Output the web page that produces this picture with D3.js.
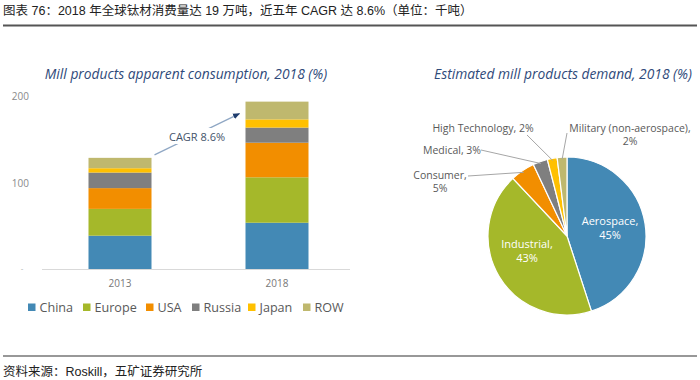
<!DOCTYPE html>
<html><head><meta charset="utf-8">
<script src="https://cdn.jsdelivr.net/npm/d3@7/dist/d3.min.js"></script>
<style>
html,body{margin:0;padding:0;background:#fff;}
svg{display:block;}
</style></head>
<body>
<svg id="c" width="700" height="380"></svg>
<script>
// ---- data ----
const years = ["2013", "2018"];
const regions = ["China", "Europe", "USA", "Russia", "Japan", "ROW"];
const china  = [38.5, 53.5];
const europe = [31, 52.5];
const usa    = [24, 40];
const russia = [18, 17.5];
const japan  = [5, 9.5];
const row    = [12, 20.5];
const yTicks = [100, 200];
const cagrLabel = "CAGR 8.6%";

const sectors = ["Aerospace", "Industrial", "Consumer", "Medical", "High Technology", "Military (non-aerospace)"];
const shares = [45, 43, 5, 3, 2, 2];

const colors = ["#4389b5", "#a5b82a", "#f28e00", "#7f7f7f", "#ffc000", "#bfb86e"];

const svg = d3.select("#c");
const cjk = "'Liberation Sans','Noto Sans CJK SC',Arial,sans-serif";
const chartFont = "'Open Sans','Noto Sans',sans-serif";

// ---- header ----
svg.append("text").attr("x", 3).attr("y", 15)
  .attr("font-family", cjk).attr("font-size", 12.5).attr("fill", "#222")
  .text("图表 76：2018 年全球钛材消费量达 19 万吨，近五年 CAGR 达 8.6%（单位：千吨）");
svg.append("line").attr("x1", 3).attr("x2", 697).attr("y1", 25.5).attr("y2", 25.5)
  .attr("stroke", "#555").attr("stroke-width", 2);

// ---- footer ----
svg.append("line").attr("x1", 3).attr("x2", 697).attr("y1", 356).attr("y2", 356)
  .attr("stroke", "#333").attr("stroke-width", 1.2);
svg.append("text").attr("x", 3).attr("y", 376)
  .attr("font-family", cjk).attr("font-size", 12.5).attr("fill", "#222")
  .text("资料来源：Roskill，五矿证券研究所");

// ---- bar chart ----
svg.append("text").attr("x", 186).attr("y", 79).attr("text-anchor", "middle")
  .attr("font-family", chartFont).attr("font-style", "italic").attr("font-size", 13.8)
  .attr("fill", "#2f4a7a").text("Mill products apparent consumption, 2018 (%)");

const series = [china, europe, usa, russia, japan, row];
const table = years.map((y, i) => {
  const o = {year: y};
  regions.forEach((r, k) => o[r] = series[k][i]);
  return o;
});
const stack = d3.stack().keys(regions)(table);

const x = d3.scalePoint().domain(years).range([120, 277]);
const barW = 63;
const y = d3.scaleLinear().domain([0, 200]).range([269, 96]);

const gBars = svg.append("g");
stack.forEach((layer, k) => {
  gBars.selectAll(null).data(layer).enter().append("rect")
    .attr("x", d => x(d.data.year) - barW / 2)
    .attr("width", barW)
    .attr("y", d => y(d[1]))
    .attr("height", d => y(d[0]) - y(d[1]))
    .attr("fill", colors[k]);
});

// axis baseline
svg.append("line").attr("x1", 42).attr("x2", 350).attr("y1", 269.5).attr("y2", 269.5)
  .attr("stroke", "#d9d9d9").attr("stroke-width", 1);
// y tick labels
svg.selectAll(null).data(yTicks).enter().append("text")
  .attr("x", 29).attr("y", d => y(d) + 4).attr("text-anchor", "end")
  .attr("font-family", chartFont).attr("font-size", 10).attr("fill", "#8a8a8a")
  .text(d => d);
svg.append("text").attr("x", 22).attr("y", 271).attr("text-anchor", "middle")
  .attr("font-family", chartFont).attr("font-size", 8).attr("fill", "#aaa").text("-");
// x labels
svg.selectAll(null).data(years).enter().append("text")
  .attr("x", d => x(d)).attr("y", 287).attr("text-anchor", "middle")
  .attr("font-family", chartFont).attr("font-size", 10).attr("fill", "#777")
  .text(d => d);

// CAGR arrow
const top13 = y(d3.sum(regions, r => table[0][r]));
const top18 = y(d3.sum(regions, r => table[1][r]));
const ax1 = x(years[0]) + barW / 2 + 3, ay1 = top13 - 3;
const ax2 = x(years[1]) - barW / 2 - 6, ay2 = top18 + 12;
svg.append("defs").append("marker").attr("id", "ah").attr("viewBox", "0 0 10 10")
  .attr("refX", 9).attr("refY", 5).attr("markerWidth", 6).attr("markerHeight", 6)
  .attr("orient", "auto").append("path").attr("d", "M0,1L10,5L0,9z").attr("fill", "#1f3d6e");
svg.append("line").attr("x1", ax1).attr("y1", ay1).attr("x2", ax2).attr("y2", ay2)
  .attr("stroke", "#8fa7c4").attr("stroke-width", 1.2).attr("marker-end", "url(#ah)");
const mx = 197, my = 137;
svg.append("rect").attr("x", mx - 30).attr("y", my - 9).attr("width", 60).attr("height", 16).attr("fill", "#fff");
svg.append("text").attr("x", mx).attr("y", my + 4).attr("text-anchor", "middle")
  .attr("font-family", chartFont).attr("font-size", 11).attr("fill", "#44546a").text(cagrLabel);

// legend
const legX = [28, 83, 146, 192, 248, 303];
const leg = svg.selectAll(null).data(regions).enter().append("g")
  .attr("transform", (d, i) => `translate(${legX[i]},307)`);
leg.append("rect").attr("x", 0).attr("y", -3.5).attr("width", 7.5).attr("height", 7.5)
  .attr("fill", (d, i) => colors[i]);
leg.append("text").attr("x", 11.5).attr("y", 4.5)
  .attr("font-family", chartFont).attr("font-size", 12.6).attr("fill", "#595959")
  .text(d => d);

// ---- pie chart ----
svg.append("text").attr("x", 563).attr("y", 79).attr("text-anchor", "middle")
  .attr("font-family", chartFont).attr("font-style", "italic").attr("font-size", 13.8)
  .attr("fill", "#2f4a7a").text("Estimated mill products demand, 2018 (%)");

const cx = 567, cy = 236, R = 79;
const pieData = d3.pie().sort(null).value(d => d)(shares);
const arc = d3.arc().innerRadius(0).outerRadius(R);
const gp = svg.append("g").attr("transform", `translate(${cx},${cy})`);
gp.selectAll(null).data(pieData).enter().append("path")
  .attr("d", arc).attr("fill", (d, i) => colors[i])
  .attr("stroke", "#fff").attr("stroke-width", 1.2);

// inside labels
const inside = [{i: 0, x: 610, y: 225}, {i: 1, x: 527, y: 248}];
inside.forEach(o => {
  const t = svg.append("text").attr("text-anchor", "middle")
    .attr("font-family", chartFont).attr("font-size", 11).attr("fill", "#fff");
  t.append("tspan").attr("x", o.x).attr("y", o.y).text(sectors[o.i] + ",");
  t.append("tspan").attr("x", o.x).attr("y", o.y + 14).text(shares[o.i] + "%");
});

// outside labels with leader lines
const outside = [
  {i: 2, lines: [sectors[2] + ",", shares[2] + "%"], x: 440, y: 179, lx: 468, ly: 176},
  {i: 3, lines: [sectors[3] + ", " + shares[3] + "%"], x: 452, y: 154, lx: 481, ly: 150},
  {i: 4, lines: [sectors[4] + ", " + shares[4] + "%"], x: 483, y: 132, lx: 527, ly: 135},
  {i: 5, lines: [sectors[5] + ",", shares[5] + "%"], x: 630, y: 132, lx: 567, ly: 133}
];
const outerArc = d3.arc().innerRadius(R - 2).outerRadius(R - 2);
outside.forEach(o => {
  const c = outerArc.centroid(pieData[o.i]);
  svg.append("polyline")
    .attr("points", `${o.lx},${o.ly} ${cx + c[0]},${cy + c[1]}`)
    .attr("fill", "none").attr("stroke", "#a6a6a6").attr("stroke-width", 1);
  const t = svg.append("text").attr("text-anchor", "middle")
    .attr("font-family", chartFont).attr("font-size", 10.5).attr("fill", "#595959");
  o.lines.forEach((s, k) => t.append("tspan").attr("x", o.x).attr("y", o.y + k * 13).text(s));
});
</script>
</body></html>
